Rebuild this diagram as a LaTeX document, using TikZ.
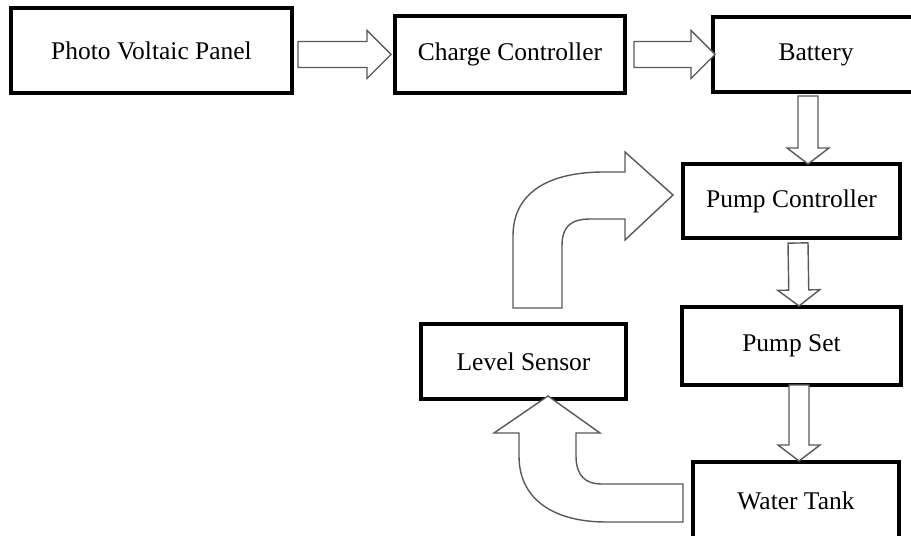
\documentclass[tikz,border=0pt]{standalone}
\usepackage{fontspec}
\setmainfont{Liberation Serif}
\usetikzlibrary{positioning,calc}

\begin{document}
\begin{tikzpicture}[
box/.style={
    rectangle,
    draw=black,
    line width=1.8pt,
    fill=white,
    inner sep=0pt,
    outer sep=0pt,
    align=center,
    font=\fontsize{14.5}{17}\selectfont
},
arrow/.style={draw=black!65,line width=0.8pt,fill=white,line join=miter},
% outlined block arrow: shaft half width, head half width, head length
block/.style n args={3}{arrow,to path={
    coordinate (bs) (\tikztotarget) coordinate (bt)
    ($(bs)!#1!90:(bt)$) -- ($(bt)!#3!(bs)!#1!-90:(bs)$) -- ($(bt)!#3!(bs)!#2!-90:(bs)$)
    -- (bt) -- ($(bt)!#3!(bs)!#2!90:(bs)$) -- ($(bt)!#3!(bs)!#1!90:(bs)$)
    -- ($(bs)!#1!-90:(bt)$) -- cycle}},
harrow/.style={block={0.26cm}{0.48cm}{0.48cm}},
varrow/.style={block={0.2cm}{0.42cm}{0.32cm}}
]
\useasboundingbox (0,0) rectangle (18.22,-10.72);

\node[box,minimum width=5.62cm,minimum height=1.7cm] (pv) at (3.03,-1.01) {Photo Voltaic Panel};
\node[box,minimum width=4.6cm,minimum height=1.54cm,right=2.06cm of pv,yshift=-0.08cm] (cc) {Charge Controller};
\node[box,minimum width=4.12cm,minimum height=1.5cm,right=1.76cm of cc] (bat) {Battery};
\node[box,minimum width=4.34cm,minimum height=1.48cm,below=1.44cm of bat,xshift=-0.49cm] (pc) {Pump Controller};
\node[box,minimum width=4.38cm,minimum height=1.56cm,below=1.38cm of pc] (ps) {Pump Set};
\node[box,minimum width=4.12cm,minimum height=1.56cm,below=1.54cm of ps,xshift=0.09cm] (wt) {Water Tank};
\node[box,minimum width=4.1cm,minimum height=1.5cm,left=1.12cm of ps,yshift=-0.31cm] (ls) {Level Sensor};

\draw[harrow] ($(pv.east |- cc.west)+(0.12,0)$) to ($(cc.west)+(-0.08,0)$);
\draw[harrow] ($(cc.east)+(0.18,0)$) to ($(cc.east -| bat.west)+(0.04,0)$);
\draw[varrow] ($(bat.south)+(-0.16,-0.08)$) to ($(pc.north)+(0.33,0)$);
\draw[varrow] ($(pc.south)+(0.13,-0.1)$) to ($(ps.north)+(0.15,0.02)$);
\draw[varrow] ($(ps.south)+(0.15,0)$) to ($(wt.north)+(0.06,0.02)$);

% feedback arrows
\coordinate (fb) at ($(ls.north)+(0.28,0.32)$);
\draw[arrow,shift={(fb)}] (-0.49,0) -- (-0.49,1.44)
    .. controls (-0.49,2.34) and (0.27,2.72) .. (1.33,2.72)
    -- (1.75,2.72) -- (1.75,3.12) -- (2.71,2.26) -- (1.75,1.36) -- (1.75,1.78)
    -- (1.07,1.78) .. controls (0.67,1.78) and (0.49,1.64) .. (0.49,1.24)
    -- (0.49,0) -- cycle;
\coordinate (tk) at ($(wt.west)+(-0.2,-0.04)$);
\draw[arrow,shift={(tk)}] (0,0.38) -- (-1.64,0.38)
    .. controls (-1.94,0.38) and (-2.14,0.54) .. (-2.14,0.94)
    -- (-2.14,1.4) -- (-1.66,1.4) -- (-2.7,2.14) -- (-3.78,1.4) -- (-3.28,1.4)
    -- (-3.28,0.94) .. controls (-3.28,0.04) and (-2.54,-0.38) .. (-1.54,-0.38)
    -- (0,-0.38) -- cycle;

\end{tikzpicture}
\end{document}
